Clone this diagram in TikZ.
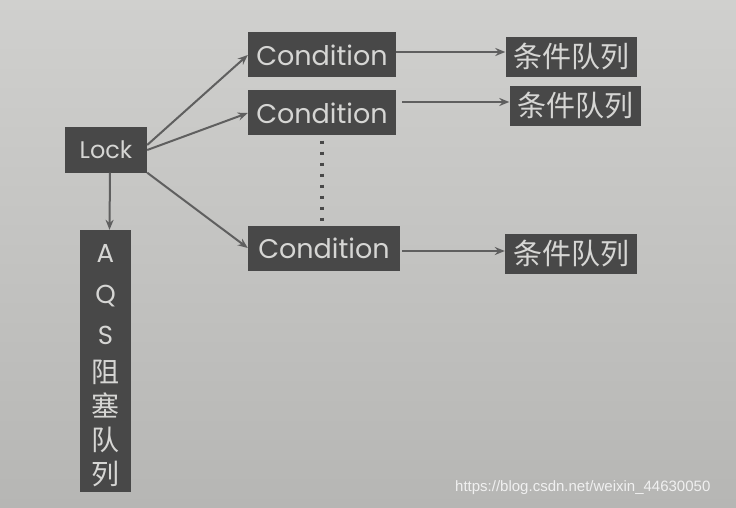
\documentclass[tikz,border=0pt]{standalone}
\usepackage{fontspec}
\setmainfont{Poppins}
\newfontfamily\cjk{Noto Sans CJK SC}
\newfontfamily\wm{Liberation Sans}
\usetikzlibrary{arrows.meta}
\definecolor{papertop}{RGB}{208,208,206}
\definecolor{paperbot}{RGB}{182,182,180}
\definecolor{boxc}{RGB}{72,72,72}
\definecolor{txtc}{RGB}{214,214,212}
\definecolor{linec}{RGB}{95,95,95}
\definecolor{wmc}{RGB}{240,240,240}
\begin{document}
\begin{tikzpicture}[x=1pt,y=-1pt,
  box/.style={fill=boxc,text=txtc,inner sep=0pt,anchor=center},
  condbox/.style={box,minimum width=148pt,minimum height=45pt,font=\fontsize{27}{27}\selectfont},
  queuebox/.style={box,minimum width=131pt,minimum height=40pt,font=\cjk\fontsize{29}{29}\selectfont},
  arr/.style={draw=linec,line width=2pt,-{Stealth[length=10pt,width=8pt]}}]
\shade[top color=papertop,bottom color=paperbot] (0,0) rectangle (736,508);
\useasboundingbox (0,0) rectangle (736,508);
\node[box,minimum width=82pt,minimum height=45pt,font=\fontsize{24}{24}\selectfont] (lock) at (106,150) {Lock};
\node[condbox] (cond1) at (322,55) {Condition};
\node[condbox] (cond2) at (322,113) {Condition};
\node[condbox,minimum width=152pt] (cond3) at (324,248) {Condition};
\node[queuebox] (q1) at (571,57) {条件队列};
\node[queuebox] (q2) at (575,106) {条件队列};
\node[queuebox,minimum width=132pt] (q3) at (571,254) {条件队列};
\node[box,minimum width=51pt,minimum height=262pt] (aqs) at (105.5,361) {};
\node[text=txtc,inner sep=0pt,align=center,font=\fontsize{26}{41}\selectfont] (aqstext) at ([yshift=-5pt]aqs.center)
  {A\\Q\\S\\[-3pt]{\cjk\fontsize{28}{28}\selectfont 阻}\\[-7pt]{\cjk\fontsize{28}{28}\selectfont 塞}\\[-7pt]{\cjk\fontsize{28}{28}\selectfont 队}\\[-7pt]{\cjk\fontsize{28}{28}\selectfont 列}};
\draw[arr] ([yshift=5pt]lock.east) -- (cond1.west);
\draw[arr] (lock.east) -- (cond2.west);
\draw[arr] (lock.south east) -- (cond3.west);
\draw[arr] ([xshift=4pt]lock.south) -- ([xshift=4pt]aqs.north);
\draw[arr] ([yshift=3pt]cond1.east) -- ([yshift=3pt]cond1.east -| q1.west);
\draw[arr] ([yshift=11pt,xshift=6pt]cond2.east) -- ([yshift=11pt]cond2.east -| q2.west);
\draw[arr] ([yshift=-3pt,xshift=2pt]cond3.east) -- ([yshift=-3pt]cond3.east -| q3.west);
\draw[boxc,line width=3.5pt,dash pattern=on 3.5pt off 7.5pt] ([yshift=-5pt]cond2.south) -- ([yshift=-5pt]cond2.south |- cond3.north);
\node[text=wmc,font=\wm\fontsize{15}{15}\selectfont,anchor=west,inner sep=0pt] (wm) at (455,488) {https://blog.csdn.net/weixin\_44630050};
\end{tikzpicture}
\end{document}
